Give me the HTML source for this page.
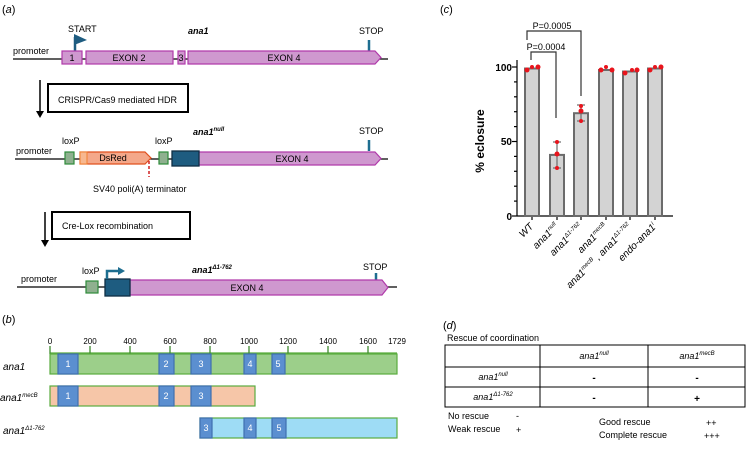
<!DOCTYPE html>
<html><head><meta charset="utf-8"><style>
html,body{margin:0;padding:0;background:#fff;}
svg{display:block;}
text{font-family:"Liberation Sans",sans-serif;}
</style></head><body>
<svg width="755" height="456" viewBox="0 0 755 456" xmlns="http://www.w3.org/2000/svg">
<!-- Panel a -->
<text x="2" y="13" font-size="11">(<tspan font-style="italic">a</tspan>)</text>
<line x1="13" y1="59" x2="388" y2="59" stroke="#000" stroke-width="1.3"/>
<text x="13" y="54" font-size="9">promoter</text>
<text x="68" y="32" font-size="9">START</text>
<line x1="75" y1="51" x2="75" y2="37" stroke="#1e5c80" stroke-width="2.5"/>
<polygon points="74,34 87,40 74,45" fill="#1e5c80"/>
<text x="188" y="34" font-size="9" font-weight="bold" font-style="italic">ana1</text>
<text x="359" y="34" font-size="9">STOP</text>
<line x1="369" y1="40" x2="369" y2="51" stroke="#1e6e90" stroke-width="2.5"/>
<g fill="#cf98cf" stroke="#b03aaa" stroke-width="1.2">
<rect x="62" y="51" width="20" height="13"/>
<rect x="86" y="51" width="87" height="13"/>
<rect x="178" y="51" width="7" height="13"/>
<polygon points="188,51 375,51 381,57.5 375,64 188,64"/>
</g>
<g font-size="9" text-anchor="middle">
<text x="72" y="61">1</text><text x="129" y="61">EXON 2</text><text x="181" y="61">3</text><text x="284" y="61">EXON 4</text>
</g>
<line x1="40" y1="80" x2="40" y2="112" stroke="#000" stroke-width="1.5"/>
<polygon points="36,111 44,111 40,118" fill="#000"/>
<rect x="48" y="84" width="140" height="28" fill="#fff" stroke="#000" stroke-width="2"/>
<text x="58" y="103" font-size="9">CRISPR/Cas9 mediated HDR</text>
<!-- row 2 -->
<line x1="15" y1="159" x2="388" y2="159" stroke="#000" stroke-width="1.3"/>
<text x="16" y="154" font-size="9">promoter</text>
<text x="62" y="144" font-size="9">loxP</text>
<text x="155" y="144" font-size="9">loxP</text>
<text x="193" y="135" font-size="9" font-weight="bold" font-style="italic">ana1<tspan font-size="6" dy="-4">null</tspan></text>
<text x="359" y="134" font-size="9">STOP</text>
<line x1="369" y1="140" x2="369" y2="151" stroke="#1e6e90" stroke-width="2.5"/>
<rect x="65" y="152" width="9" height="12" fill="#8fb08f" stroke="#2e8b3a" stroke-width="1.2"/>
<rect x="159" y="152" width="9" height="12" fill="#8fb08f" stroke="#2e8b3a" stroke-width="1.2"/>
<polygon points="80,152 145,152 151,158 145,164 80,164" fill="#f4a88a" stroke="#e0501e" stroke-width="1.2"/>
<rect x="80" y="152" width="7" height="12" fill="#f7b890" stroke="#f08030" stroke-width="1"/>
<text x="113" y="161" font-size="9" text-anchor="middle">DsRed</text>
<line x1="149" y1="161" x2="149" y2="177" stroke="#d02020" stroke-width="1.5" stroke-dasharray="3,2"/>
<polygon points="198,152 375,152 381,158.5 375,165 198,165" fill="#cf98cf" stroke="#b03aaa" stroke-width="1.2"/>
<rect x="172" y="151" width="27" height="15" fill="#1e5c80" stroke="#0e2e44" stroke-width="1.3"/>
<text x="292" y="162" font-size="9" text-anchor="middle">EXON 4</text>
<text x="93" y="192" font-size="9">SV40 poli(A) terminator</text>
<line x1="45" y1="212" x2="45" y2="241" stroke="#000" stroke-width="1.5"/>
<polygon points="41,240 49,240 45,247" fill="#000"/>
<rect x="52" y="212" width="138" height="27" fill="#fff" stroke="#000" stroke-width="2"/>
<text x="62" y="229" font-size="9">Cre-Lox recombination</text>
<!-- row 3 -->
<line x1="17" y1="287" x2="397" y2="287" stroke="#000" stroke-width="1.3"/>
<text x="21" y="282" font-size="9">promoter</text>
<text x="82" y="274" font-size="9">loxP</text>
<text x="192" y="273" font-size="9" font-weight="bold" font-style="italic">ana1<tspan font-size="6" dy="-4">Δ1-762</tspan></text>
<text x="363" y="270" font-size="9">STOP</text>
<line x1="376" y1="273" x2="376" y2="282" stroke="#1e6e90" stroke-width="2.5"/>
<rect x="86" y="281" width="12" height="12" fill="#8fb08f" stroke="#2e8b3a" stroke-width="1.2"/>
<polygon points="130,280 382,280 388,287.5 382,295 130,295" fill="#cf98cf" stroke="#b03aaa" stroke-width="1.2"/>
<rect x="105" y="279" width="25" height="17" fill="#1e5c80" stroke="#0e2e44" stroke-width="1.3"/>
<polyline points="107,279 107,271 119,271" fill="none" stroke="#1e6e90" stroke-width="2.5"/>
<polygon points="118,267 125,271 118,275" fill="#1e6e90"/>
<text x="247" y="291" font-size="9" text-anchor="middle">EXON 4</text>

<!-- Panel b -->
<text x="2" y="323" font-size="11">(<tspan font-style="italic">b</tspan>)</text>
<line x1="50" y1="353" x2="397" y2="353" stroke="#5aac3f" stroke-width="1.3"/>
<g stroke="#3f8a30" stroke-width="1.3">
<line x1="50" y1="346" x2="50" y2="354"/><line x1="90" y1="346" x2="90" y2="354"/><line x1="130" y1="346" x2="130" y2="354"/><line x1="170" y1="346" x2="170" y2="354"/><line x1="210" y1="346" x2="210" y2="354"/><line x1="249" y1="346" x2="249" y2="354"/><line x1="288" y1="346" x2="288" y2="354"/><line x1="328" y1="346" x2="328" y2="354"/><line x1="368" y1="346" x2="368" y2="354"/>
</g>
<g font-size="8" text-anchor="middle">
<text x="50" y="344">0</text><text x="90" y="344">200</text><text x="130" y="344">400</text><text x="170" y="344">600</text><text x="210" y="344">800</text><text x="249" y="344">1000</text><text x="288" y="344">1200</text><text x="328" y="344">1400</text><text x="368" y="344">1600</text><text x="397" y="344">1729</text>
</g>
<rect x="50" y="354" width="347" height="20" fill="#9ccf8a" stroke="#5aac3f" stroke-width="1.2"/>
<rect x="50" y="386" width="205" height="20" fill="#f6c6a8" stroke="#5aac3f" stroke-width="1.2"/>
<rect x="200" y="418" width="197" height="20" fill="#9edcf5" stroke="#5aac3f" stroke-width="1.2"/>
<g fill="#5b8fd0" stroke="#3f6fb0" stroke-width="1.2">
<rect x="58" y="354" width="20" height="20"/><rect x="159" y="354" width="15" height="20"/><rect x="191" y="354" width="20" height="20"/><rect x="244" y="354" width="12" height="20"/><rect x="272" y="354" width="13" height="20"/>
<rect x="58" y="386" width="20" height="20"/><rect x="159" y="386" width="15" height="20"/><rect x="191" y="386" width="20" height="20"/>
<rect x="200" y="418" width="12" height="20"/><rect x="244" y="418" width="12" height="20"/><rect x="272" y="418" width="14" height="20"/>
</g>
<g font-size="9" fill="#fff" text-anchor="middle">
<text x="68" y="367">1</text><text x="166" y="367">2</text><text x="201" y="367">3</text><text x="250" y="367">4</text><text x="278" y="367">5</text>
<text x="68" y="399">1</text><text x="166" y="399">2</text><text x="201" y="399">3</text>
<text x="206" y="431">3</text><text x="250" y="431">4</text><text x="279" y="431">5</text>
</g>
<g font-size="10" font-style="italic">
<text x="3" y="370">ana1</text>
<text x="0" y="401">ana1<tspan font-size="6" dy="-4">mecB</tspan></text>
<text x="3" y="434">ana1<tspan font-size="6" dy="-4">Δ1-762</tspan></text>
</g>

<!-- Panel c -->
<text x="440" y="13" font-size="11">(<tspan font-style="italic">c</tspan>)</text>
<g stroke="#000" stroke-width="1.2">
<line x1="517" y1="60" x2="517" y2="216"/>
<line x1="517" y1="216" x2="673" y2="216"/>
<line x1="512" y1="67" x2="517" y2="67"/><line x1="512" y1="141.5" x2="517" y2="141.5"/><line x1="512" y1="216" x2="517" y2="216"/>
<line x1="514" y1="81.9" x2="517" y2="81.9"/><line x1="514" y1="96.8" x2="517" y2="96.8"/><line x1="514" y1="111.7" x2="517" y2="111.7"/><line x1="514" y1="126.6" x2="517" y2="126.6"/>
<line x1="514" y1="156.4" x2="517" y2="156.4"/><line x1="514" y1="171.3" x2="517" y2="171.3"/><line x1="514" y1="186.2" x2="517" y2="186.2"/><line x1="514" y1="201.1" x2="517" y2="201.1"/>
<line x1="532" y1="216" x2="532" y2="220"/><line x1="557" y1="216" x2="557" y2="220"/><line x1="581" y1="216" x2="581" y2="220"/><line x1="606" y1="216" x2="606" y2="220"/><line x1="630" y1="216" x2="630" y2="220"/><line x1="655" y1="216" x2="655" y2="220"/>
</g>
<g font-size="10" font-weight="bold" text-anchor="end">
<text x="512" y="71">100</text><text x="512" y="145">50</text><text x="512" y="220">0</text>
</g>
<text x="0" y="0" font-size="12" font-weight="bold" text-anchor="middle" transform="translate(484,141) rotate(-90)">% eclosure</text>
<g fill="#d3d3d3" stroke="#6b6b6b" stroke-width="2">
<rect x="525" y="68.5" width="14" height="147.5"/>
<rect x="550" y="154.9" width="14" height="61.1"/>
<rect x="574" y="113.2" width="14" height="102.8"/>
<rect x="599" y="70" width="14" height="146"/>
<rect x="623" y="71.5" width="14" height="144.5"/>
<rect x="648" y="68.5" width="14" height="147.5"/>
</g>
<g stroke="#6b6b6b" stroke-width="1.2">
<line x1="557" y1="142" x2="557" y2="168"/><line x1="553" y1="142" x2="561" y2="142"/><line x1="553" y1="168" x2="561" y2="168"/>
<line x1="581" y1="105" x2="581" y2="121"/><line x1="577" y1="105" x2="585" y2="105"/><line x1="577" y1="121" x2="585" y2="121"/>
</g>
<g fill="#e8141c">
<circle cx="527" cy="70" r="2.5"/><circle cx="532" cy="67" r="2"/><circle cx="538" cy="67" r="2.5"/>
<circle cx="557" cy="142" r="2"/><circle cx="557" cy="154" r="2.5"/><circle cx="557" cy="168" r="2"/>
<circle cx="581" cy="106" r="2"/><circle cx="581" cy="111" r="2.5"/><circle cx="581" cy="121" r="2"/>
<circle cx="601" cy="70" r="2.5"/><circle cx="606" cy="67" r="2"/><circle cx="612" cy="70" r="2.5"/>
<circle cx="625" cy="73" r="2.5"/><circle cx="632" cy="70" r="2"/><circle cx="637" cy="70" r="2.5"/>
<circle cx="650" cy="70" r="2.5"/><circle cx="655" cy="67" r="2"/><circle cx="661" cy="67" r="2.5"/>
</g>
<g stroke="#333" stroke-width="1.2" fill="none">
<polyline points="527,40 527,31 581,31 581,96"/>
<polyline points="531,60 531,52 556,52 556,118"/>
</g>
<text x="552" y="29" font-size="9" text-anchor="middle">P=0.0005</text>
<text x="546" y="50" font-size="9" text-anchor="middle">P=0.0004</text>
<g font-size="10" font-style="italic" text-anchor="end">
<text transform="translate(534,227) rotate(-45)">WT</text>
<text transform="translate(559,227) rotate(-45)">ana1<tspan font-size="6" dy="-4">null</tspan></text>
<text transform="translate(583,227) rotate(-45)">ana1<tspan font-size="6" dy="-4">Δ1-762</tspan></text>
<text transform="translate(608,227) rotate(-45)">ana1<tspan font-size="6" dy="-4">mecB</tspan></text>
<text transform="translate(632,227) rotate(-45)">ana1<tspan font-size="6" dy="-4">mecB</tspan><tspan dy="4"> , ana1</tspan><tspan font-size="6" dy="-4">Δ1-762</tspan></text>
<text transform="translate(657,227) rotate(-45)">endo-ana1<tspan font-size="6" dy="-4">i</tspan></text>
</g>

<!-- Panel d -->
<text x="443" y="329" font-size="11">(<tspan font-style="italic">d</tspan>)</text>
<text x="447" y="341" font-size="9">Rescue of coordination</text>
<g stroke="#000" stroke-width="1" fill="none">
<rect x="445" y="345" width="300" height="62"/>
<line x1="445" y1="367" x2="745" y2="367"/><line x1="445" y1="387" x2="745" y2="387"/>
<line x1="540" y1="345" x2="540" y2="407"/><line x1="648" y1="345" x2="648" y2="407"/>
</g>
<g font-size="9" font-style="italic" text-anchor="middle">
<text x="594" y="359">ana1<tspan font-size="6" dy="-4">null</tspan></text>
<text x="697" y="359">ana1<tspan font-size="6" dy="-4">mecB</tspan></text>
<text x="493" y="380">ana1<tspan font-size="6" dy="-4">null</tspan></text>
<text x="493" y="400">ana1<tspan font-size="6" dy="-4">Δ1-762</tspan></text>
</g>
<g font-size="10" font-weight="bold" text-anchor="middle">
<text x="594" y="381">-</text><text x="697" y="381">-</text><text x="594" y="401">-</text><text x="697" y="402">+</text>
</g>
<g font-size="9">
<text x="448" y="419">No rescue</text><text x="516" y="419">-</text>
<text x="448" y="432">Weak rescue</text><text x="516" y="433">+</text>
<text x="599" y="425">Good rescue</text><text x="706" y="426">++</text>
<text x="599" y="438">Complete rescue</text><text x="704" y="439">+++</text>
</g>
</svg>
</body></html>
